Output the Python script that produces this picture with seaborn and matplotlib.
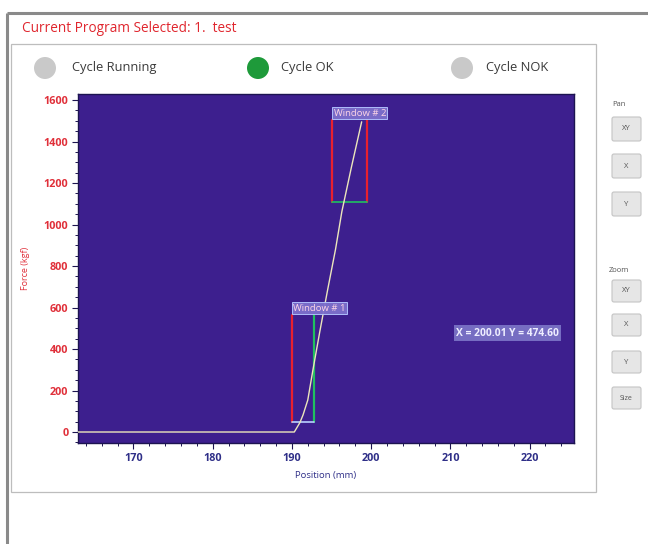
import matplotlib
matplotlib.use("Agg")
import matplotlib.pyplot as plt
import matplotlib.patches as mpatches
from matplotlib.ticker import MultipleLocator
import seaborn as sns
import pandas as pd

# ---- data ----
positions = [163.0, 170.0, 180.0, 188.0, 190.3, 191.0, 191.4, 192.0, 192.65,
             193.5, 194.5, 195.5, 196.3, 197.5, 198.8]
forces = [0, 0, 0, 0, 0, 45, 82, 154, 299, 480, 684, 880, 1062, 1275, 1495]

# evaluation windows: (x_left, x_right, y_bottom, y_top)
window_names = ["Window # 1", "Window # 2"]
window_x0 = [190.0, 195.1]
window_x1 = [192.8, 199.5]
window_y0 = [48, 1110]
window_y1 = [564, 1504]

cursor_text = "X = 200.01 Y = 474.60"
cursor_x = 217.2
cursor_y = 477

x_ticks = [170, 180, 190, 200, 210, 220]
y_ticks = [0, 200, 400, 600, 800, 1000, 1200, 1400, 1600]

status_labels = ["Cycle Running", "Cycle OK", "Cycle NOK"]
status_colors = ["#c9c9c9", "#1e9a3a", "#c9c9c9"]
pan_buttons = ["XY", "X", "Y"]
zoom_buttons = ["XY", "X", "Y", "Size"]

sns.set_theme(style="white")
plt.rcParams["font.family"] = ["Open Sans", "DejaVu Sans"]

W, H = 648, 544
fig = plt.figure(figsize=(W / 100, H / 100), dpi=100)
fig.patch.set_facecolor("white")

# overlay in pixel coordinates for UI chrome
ov = fig.add_axes([0, 0, 1, 1], zorder=0)
ov.set_xlim(0, W)
ov.set_ylim(H, 0)
ov.axis("off")

# outer frame
ov.plot([7, W], [13, 13], color="#8a8a8a", lw=2.2, solid_capstyle="butt")
ov.plot([7, 7], [13, H], color="#8a8a8a", lw=2.2, solid_capstyle="butt")
# inner panel
ov.add_patch(mpatches.Rectangle((11, 44), 585, 448, fill=False,
                                edgecolor="#bdbdbd", lw=0.9))

ov.text(22, 28, "Current Program Selected: 1.  test", color="#e0262e",
        fontsize=9.8, va="center", ha="left")

circle_x = [45, 258, 462]
text_x = [72, 281, 486]
for cx, tx, lab, col in zip(circle_x, text_x, status_labels, status_colors):
    ov.add_patch(mpatches.Circle((cx, 68), 11, facecolor=col, edgecolor="none"))
    ov.text(tx, 68, lab, color="#3a3a3a", fontsize=9.3, va="center", ha="left")

# right-side buttons
ov.text(612, 104, "Pan", color="#555555", fontsize=5.5, va="center", ha="left")
for lab, cy in zip(pan_buttons, [129, 166, 204]):
    ov.add_patch(mpatches.FancyBboxPatch((612, cy - 12), 29, 24,
                                         boxstyle="round,pad=0,rounding_size=2",
                                         facecolor="#e6e6e6", edgecolor="#c4c4c4", lw=0.8))
    ov.text(626.5, cy, lab, color="#555555", fontsize=5.5, va="center", ha="center")
ov.text(609, 270, "Zoom", color="#555555", fontsize=5.5, va="center", ha="left")
for lab, cy in zip(zoom_buttons, [291, 325, 362, 398]):
    ov.add_patch(mpatches.FancyBboxPatch((612, cy - 11), 29, 22,
                                         boxstyle="round,pad=0,rounding_size=2",
                                         facecolor="#e6e6e6", edgecolor="#c4c4c4", lw=0.8))
    ov.text(626.5, cy, lab, color="#555555", fontsize=5 if lab == "Size" else 5.5,
            va="center", ha="center")

# ---- main plot ----
ax_l, ax_r, ax_t, ax_b = 78, 574, 94, 443
ax = fig.add_axes([ax_l / W, 1 - ax_b / H, (ax_r - ax_l) / W, (ax_b - ax_t) / H], zorder=1)
ax.set_facecolor("#3d1f8e")

df = pd.DataFrame({"Position": positions, "Force": forces})
sns.lineplot(data=df, x="Position", y="Force", ax=ax, color="#ece6bc", lw=1.0,
             sort=False, estimator=None, zorder=4)

red, green, light = "#e8202e", "#1fc060", "#b8d0ff"
# window 1: left red, right green, bottom light
ax.plot([window_x0[0], window_x0[0]], [window_y0[0], window_y1[0]], color=red, lw=1.6, zorder=3)
ax.plot([window_x1[0], window_x1[0]], [window_y0[0], window_y1[0]], color=green, lw=1.6, zorder=3)
ax.plot([window_x0[0], window_x1[0]], [window_y0[0], window_y0[0]], color=light, lw=1.2, zorder=3)
# window 2: left/right red, bottom green
ax.plot([window_x0[1], window_x0[1]], [window_y0[1], window_y1[1]], color=red, lw=1.6, zorder=3)
ax.plot([window_x1[1], window_x1[1]], [window_y0[1], window_y1[1]], color=red, lw=1.6, zorder=3)
ax.plot([window_x0[1], window_x1[1]], [window_y0[1], window_y0[1]], color=green, lw=1.2, zorder=3)

for name, x0, y1 in zip(window_names, window_x0, window_y1):
    ax.text(x0 + 0.15, y1 + 10, name, color="#ffd6e6", fontsize=6.8, ha="left", va="bottom",
            zorder=5,
            bbox=dict(boxstyle="square,pad=0.15", facecolor="#7d70cc", edgecolor="#b4c4ff",
                      lw=0.7, alpha=0.95))

ax.text(cursor_x, cursor_y, cursor_text, color="#eeeeff", fontsize=7.4, fontweight="bold",
        ha="center", va="center", zorder=5,
        bbox=dict(boxstyle="square,pad=0.2", facecolor="#7d76c8", edgecolor="none", alpha=0.9))

ax.set_xlim(163.0, 225.6)
ax.set_ylim(-53, 1629)
ax.set_xticks(x_ticks)
ax.set_yticks(y_ticks)
ax.xaxis.set_minor_locator(MultipleLocator(2))
ax.yaxis.set_minor_locator(MultipleLocator(50))
ax.tick_params(axis="both", which="major", direction="out", length=4, width=0.8,
               color="#1c1450", pad=3)
ax.tick_params(axis="both", which="minor", direction="out", length=2, width=0.7,
               color="#1c1450")
ax.tick_params(axis="both", which="both", bottom=True, left=True)
for lab in ax.get_xticklabels():
    lab.set_color("#2f2f88")
    lab.set_fontsize(7.8)
    lab.set_fontweight("bold")
for lab in ax.get_yticklabels():
    lab.set_color("#e0303a")
    lab.set_fontsize(7.8)
    lab.set_fontweight("bold")
for s in ax.spines.values():
    s.set_color("#1c1450")
    s.set_linewidth(1.0)

ax.set_xlabel("Position (mm)", color="#2f2f88", fontsize=6.8, labelpad=5)
ax.set_ylabel("Force (kgf)", color="#e0303a", fontsize=6.5, labelpad=10)

fig.savefig("out.png", dpi=100, facecolor="white")
